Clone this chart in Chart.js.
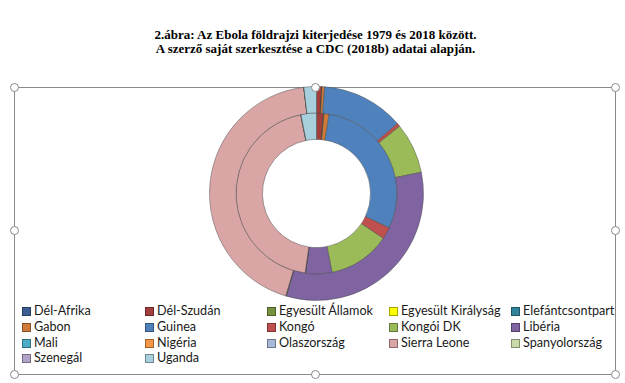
<!DOCTYPE html>
<html>
<head>
<meta charset="utf-8">
<script src="https://cdn.jsdelivr.net/npm/chart.js@4"></script>
<style>
  html, body { margin:0; padding:0; background:#fff; }
  body { width:625px; height:383px; position:relative; overflow:hidden; }
  #title { position:absolute; left:0; width:631px; top:28px; text-align:center;
           font-family:"Liberation Serif","Times New Roman",serif; font-weight:bold;
           font-size:13px; line-height:14px; color:#000; }
  #frame { position:absolute; left:14px; top:87px; width:602px; height:288px;
           border:1.5px solid #8a8a8a; box-sizing:border-box; }
  .handle { position:absolute; width:9px; height:9px; border-radius:50%;
            background:#fff; border:1.5px solid #8a8a8a; box-sizing:border-box; }
  #chartBox { position:absolute; left:209px; top:86px; width:215px; height:215px; }
  .lg { position:absolute; font-family:Lato,"Open Sans",sans-serif; font-size:12.6px;
        color:#1a1a1a; white-space:nowrap; line-height:14px; }
  .lg i { position:absolute; left:0; top:2px; width:9px; height:9px; box-sizing:border-box;
          border:1px solid rgba(0,0,0,0.35); }
  .lg span { position:absolute; left:12px; top:-1px; }
</style>
</head>
<body>
<div id="title">2.ábra: Az Ebola földrajzi kiterjedése 1979 és 2018 között.<br>A szerző saját szerkesztése a CDC (2018b) adatai alapján.</div>
<div id="frame"></div>
<div id="chartBox"><canvas id="c" width="215" height="215"></canvas></div>
<div id="legend"></div>
<script>
const categories = ["Dél-Afrika","Dél-Szudán","Egyesült Államok","Egyesült Királyság","Elefántcsontpart",
  "Gabon","Guinea","Kongó","Kongói DK","Libéria","Mali","Nigéria","Olaszország","Sierra Leone",
  "Spanyolország","Szenegál","Uganda"];
// outer ring
const outerValues = [2, 250, 4, 1, 1, 130, 3950, 160, 2430, 10400, 8, 20, 1, 13800, 1, 1, 600];
// inner ring
const innerValues = [0.03, 1.4, 0.03, 0.03, 0.03, 1.0, 29.6, 2.4, 12.5, 5.3, 0.03, 0.03, 0.03, 44.7, 0.03, 0.03, 3.1];
const colors = ["#3A5E91","#A23E3C","#76923C","#FFFF00","#31849B","#D07A3A","#4F81BD","#C0504D",
  "#9BBB59","#8064A2","#4BACC6","#F79646","#A7B9DA","#D9A5A5","#C9DBA8","#B3A2C7","#A8D0DC"];

const ctx = document.getElementById('c').getContext('2d');
new Chart(ctx, {
  type: 'doughnut',
  data: {
    labels: categories,
    datasets: [
      { data: outerValues, backgroundColor: colors, borderColor: 'rgba(70,70,70,0.45)', borderWidth: 1 },
      { data: innerValues, backgroundColor: colors, borderColor: 'rgba(70,70,70,0.45)', borderWidth: 1 }
    ]
  },
  options: {
    responsive: false,
    animation: false,
    devicePixelRatio: 1,
    cutout: '50.5%',
    layout: { padding: 0 },
    plugins: { legend: { display: false }, tooltip: { enabled: false } }
  }
});

// handles
const hx = [14, 315, 615], hy = [87, 230, 374];
hy.forEach((y, j) => hx.forEach((x, i) => {
  if (i === 1 && j === 1) return;
  const d = document.createElement('div');
  d.className = 'handle';
  d.style.left = (x - 4.5) + 'px';
  d.style.top = (y - 4.5) + 'px';
  document.body.appendChild(d);
}));

// legend
const colX = [22, 145, 267, 389, 511];
const rowY = [305, 321, 337, 352];
const lg = document.getElementById('legend');
categories.forEach((name, k) => {
  const el = document.createElement('div');
  el.className = 'lg';
  el.style.left = colX[k % 5] + 'px';
  el.style.top = rowY[Math.floor(k / 5)] + 'px';
  el.innerHTML = '<i style="background:' + colors[k] + '"></i><span>' + name + '</span>';
  lg.appendChild(el);
});
</script>
</body>
</html>
